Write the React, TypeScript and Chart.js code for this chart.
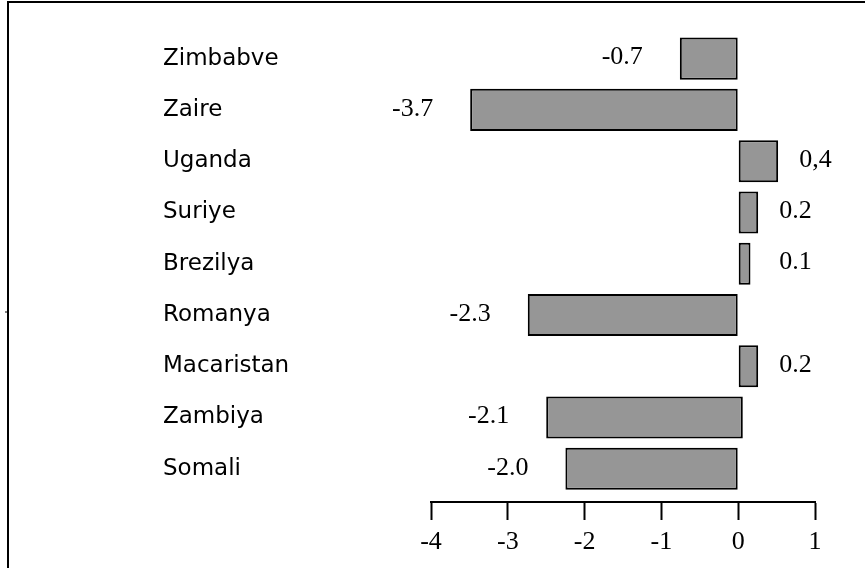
import React, { useEffect, useRef } from "react";
import { Chart, registerables } from "chart.js";

Chart.register(...registerables);

const categories = ["Zimbabve", "Zaire", "Uganda", "Suriye", "Brezilya", "Romanya", "Macaristan", "Zambiya", "Somali"];
const barValues = [-0.76, -3.49, 0.52, 0.26, 0.16, -2.74, 0.26, -2.5, -2.25];
const barBases = [0, 0, 0, 0, 0, 0, 0, 0.06, 0];
const valueLabels = ["-0.7", "-3.7", "0,4", "0.2", "0.1", "-2.3", "0.2", "-2.1", "-2.0"];
const xMin = -4;
const xMax = 1;

const SANS = '"DejaVu Sans", sans-serif';
const SERIF = '"Liberation Serif", "Times New Roman", serif';

const overlay = {
  id: "overlay",
  beforeDraw(chart: any) {
    const ctx = chart.ctx;
    ctx.save();
    ctx.strokeStyle = "#000";
    ctx.lineWidth = 2;
    ctx.beginPath();
    ctx.moveTo(8, 568);
    ctx.lineTo(8, 2);
    ctx.lineTo(865, 2);
    ctx.stroke();
    ctx.lineWidth = 1;
    ctx.beginPath();
    ctx.moveTo(5, 312);
    ctx.lineTo(8, 312);
    ctx.stroke();
    ctx.restore();
  },
  afterDraw(chart: any) {
    const ctx = chart.ctx;
    const xs = chart.scales.x;
    const ys = chart.scales.y;
    ctx.save();
    ctx.fillStyle = "#000";
    ctx.font = "23px " + SANS;
    ctx.textAlign = "left";
    ctx.textBaseline = "middle";
    categories.forEach((c, i) => {
      ctx.fillText(c, 163, ys.getPixelForValue(i));
    });
    ctx.font = "26px " + SERIF;
    const zero = xs.getPixelForValue(0);
    barValues.forEach((v, i) => {
      const cy = ys.getPixelForValue(i) - 1;
      const lab = valueLabels[i];
      if (v < 0) {
        ctx.textAlign = "right";
        ctx.fillText(lab, xs.getPixelForValue(v) - 37, cy);
      } else {
        ctx.textAlign = "left";
        ctx.fillText(lab, Math.max(xs.getPixelForValue(v) + 21, zero + 41), cy);
      }
    });
    ctx.restore();
  },
};

export default function App() {
  const ref = useRef<HTMLCanvasElement | null>(null);
  useEffect(() => {
    if (!ref.current) return;
    const chart = new Chart(ref.current, {
      type: "bar",
      data: {
        datasets: [
          {
            data: barValues.map((v, i) => ({ x: [barBases[i], v], y: i })) as any,
            backgroundColor: "#969696",
            borderColor: "#000",
            borderWidth: 2,
            borderSkipped: false,
            barPercentage: 0.82,
            categoryPercentage: 1,
          },
        ],
      },
      options: {
        animation: false,
        responsive: false,
        indexAxis: "y",
        layout: { padding: { left: 431, right: 50, top: 33, bottom: 0 } },
        plugins: { legend: { display: false }, tooltip: { enabled: false } },
        scales: {
          x: {
            type: "linear",
            min: xMin,
            max: xMax,
            position: "bottom",
            afterFit: (s: any) => {
              s.height = 66;
            },
            border: { display: true, color: "#000", width: 2 },
            grid: {
              drawOnChartArea: false,
              drawTicks: true,
              tickLength: 18,
              tickWidth: 2,
              tickColor: "#000",
            },
            ticks: {
              stepSize: 1,
              padding: 7,
              color: "#000",
              font: { family: SERIF, size: 26 },
              callback: (v: any) => String(v),
            },
          },
          y: {
            type: "linear",
            display: false,
            reverse: true,
            offset: false,
            min: -0.5,
            max: 8.65,
            ticks: { stepSize: 1, includeBounds: false },
          },
        },
      },
      plugins: [overlay],
    });
    return () => chart.destroy();
  }, []);
  return (
    <div style={{ position: "absolute", left: 0, top: 0, width: 865, height: 568, background: "#fff" }}>
      <canvas ref={ref} width={865} height={568} style={{ display: "block" }} />
    </div>
  );
}
